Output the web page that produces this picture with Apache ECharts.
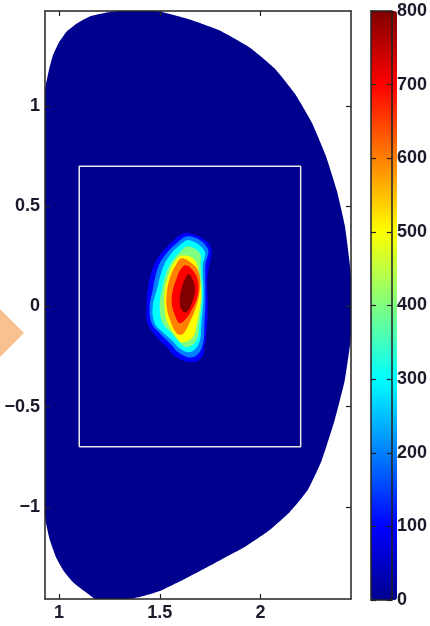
<!DOCTYPE html>
<html>
<head>
<meta charset="utf-8">
<script src="https://cdn.jsdelivr.net/npm/echarts@6/dist/echarts.min.js"></script>
<style>
  html, body { margin: 0; padding: 0; background: #fff; }
  #chart { width: 430px; height: 626px; }
</style>
</head>
<body>
<div id="chart"></div>
<script>
// tick labels
const xTicks = [1, 1.5, 2]
const yTicks = [-1, -0.5, 0, 0.5, 1]
const cbTicks = [0, 100, 200, 300, 400, 500, 600, 700, 800]

// white rectangle (R, Z)
const boxR = [1.1, 2.2, 2.2, 1.1, 1.1]
const boxZ = [-0.7, -0.7, 0.7, 0.7, -0.7]

// plasma boundary, level 0
const boundary = [
  [0.924, 1.029], [0.934, 1.104], [0.949, 1.178], [0.969, 1.253], [0.999, 1.318],
  [1.038, 1.373], [1.088, 1.413], [1.152, 1.448], [1.237, 1.468], [1.326, 1.478],
  [1.426, 1.478], [1.500, 1.473], [1.649, 1.433], [1.798, 1.378], [1.947, 1.293],
  [2.071, 1.188], [2.170, 1.064], [2.255, 0.919], [2.324, 0.755], [2.379, 0.580],
  [2.419, 0.405], [2.443, 0.221], [2.458, 0.031], [2.448, -0.168], [2.419, -0.368],
  [2.369, -0.567], [2.305, -0.767], [2.235, -0.916], [2.146, -1.026], [2.046, -1.116],
  [1.922, -1.201], [1.773, -1.281], [1.614, -1.365], [1.500, -1.420], [1.401, -1.450],
  [1.302, -1.467], [1.188, -1.465], [1.138, -1.430], [1.073, -1.380], [1.023, -1.320],
  [0.984, -1.250], [0.954, -1.166], [0.934, -1.076], [0.924, -0.991], [0.915, -0.5],
  [0.912, 0], [0.915, 0.5]
]

// contour levels and their outlines
const levels = [0, 100, 200, 300, 400, 500, 600, 700, 800]
const c100 = [
  [1.649, 0.366], [1.732, 0.326], [1.757, 0.276], [1.740, 0.176], [1.735, 0.096],
  [1.738, 0.031], [1.735, -0.083], [1.722, -0.203], [1.709, -0.253], [1.664, -0.278],
  [1.584, -0.253], [1.535, -0.203], [1.485, -0.153], [1.440, -0.083], [1.435, -0.003],
  [1.440, 0.081], [1.465, 0.191], [1.500, 0.256], [1.565, 0.326], [1.609, 0.361]
]
const c200 = [
  [1.649, 0.351], [1.738, 0.291], [1.727, 0.206], [1.727, 0.046], [1.722, -0.083],
  [1.710, -0.203], [1.664, -0.253], [1.599, -0.233], [1.550, -0.183], [1.500, -0.133],
  [1.460, -0.083], [1.450, -0.003], [1.465, 0.081], [1.485, 0.176], [1.515, 0.241],
  [1.584, 0.316]
]
const c300 = [
  [1.649, 0.331], [1.723, 0.276], [1.714, 0.206], [1.717, 0.046], [1.707, -0.083],
  [1.695, -0.183], [1.649, -0.228], [1.599, -0.208], [1.560, -0.168], [1.515, -0.128],
  [1.475, -0.083], [1.465, -0.003], [1.485, 0.081], [1.510, 0.176], [1.540, 0.241],
  [1.599, 0.306]
]
const c400 = [
  [1.639, 0.301], [1.699, 0.266], [1.703, 0.206], [1.710, 0.046], [1.697, -0.083],
  [1.682, -0.168], [1.634, -0.203], [1.589, -0.168], [1.560, -0.133], [1.515, -0.083],
  [1.500, -0.003], [1.510, 0.081], [1.535, 0.176], [1.565, 0.231], [1.609, 0.281]
]
const c500 = [
  [1.614, 0.256], [1.674, 0.231], [1.695, 0.156], [1.706, 0.070], [1.700, 0.000],
  [1.684, -0.083], [1.664, -0.153], [1.609, -0.178], [1.584, -0.153], [1.540, -0.083],
  [1.525, -0.018], [1.525, 0.081], [1.550, 0.176], [1.575, 0.226]
]
const c600 = [
  [1.609, 0.241], [1.659, 0.216], [1.694, 0.171], [1.699, 0.081], [1.679, -0.008],
  [1.649, -0.078], [1.614, -0.138], [1.584, -0.133], [1.555, -0.078], [1.535, -0.008],
  [1.535, 0.066], [1.550, 0.141], [1.579, 0.206]
]
const c700 = [
  [1.629, 0.206], [1.664, 0.181], [1.689, 0.131], [1.689, 0.056], [1.664, -0.008],
  [1.634, -0.058], [1.599, -0.083], [1.575, -0.043], [1.560, 0.016], [1.565, 0.081],
  [1.584, 0.141], [1.604, 0.186]
]
const c800 = [
  [1.644, 0.161], [1.669, 0.121], [1.674, 0.071], [1.659, 0.016], [1.634, -0.028],
  [1.609, -0.018], [1.599, 0.031], [1.609, 0.091], [1.624, 0.136]
]
const outlines = [boundary, c100, c200, c300, c400, c500, c600, c700, c800]

const jet = ['#00008f', '#0000ff', '#0080ff', '#00ffff', '#80ff80', '#ffff00', '#ff8000', '#ff0000', '#800000']

const chart = echarts.init(document.getElementById('chart'))

const lineCol = '#222'
const labelStyle = {
  fontFamily: 'Liberation Sans',
  fontSize: 18,
  fontWeight: 'bold',
  color: '#1a1a2a'
}
const fmt = v => (v < 0 ? '\u2212' + Math.abs(v) : String(v))

const frameAxis = (extra) => Object.assign({
  type: 'value',
  axisLine: { show: true, onZero: false, lineStyle: { color: lineCol, width: 1.5 } },
  axisTick: { show: true, inside: true, length: 5, lineStyle: { color: lineCol, width: 1.2 } },
  axisLabel: { show: false },
  splitLine: { show: false },
  z: 10
}, extra)

const ticks = vals => ({ show: true, inside: true, length: 5, customValues: vals, lineStyle: { color: lineCol, width: 1.2 } })

const option = {
  animation: false,
  backgroundColor: '#fff',
  grid: [
    { left: 45, top: 11, width: 306, height: 588 },
    { left: 371, top: 11, width: 26, height: 589 }
  ],
  xAxis: [
    frameAxis({
      gridIndex: 0, position: 'bottom', min: 0.93, max: 2.45,
      axisTick: ticks(xTicks),
      axisLabel: Object.assign({ show: true, margin: 5, customValues: xTicks, formatter: fmt }, labelStyle)
    }),
    frameAxis({ gridIndex: 0, position: 'top', min: 0.93, max: 2.45, axisTick: ticks(xTicks) }),
    frameAxis({ gridIndex: 1, position: 'bottom', min: 0, max: 1, axisTick: { show: false } }),
    frameAxis({ gridIndex: 1, position: 'top', min: 0, max: 1, axisTick: { show: false } })
  ],
  yAxis: [
    frameAxis({
      gridIndex: 0, position: 'left', min: -1.46, max: 1.475,
      axisTick: ticks(yTicks),
      axisLabel: Object.assign({ show: true, margin: 5, customValues: yTicks, formatter: fmt }, labelStyle)
    }),
    frameAxis({ gridIndex: 0, position: 'right', min: -1.46, max: 1.475, axisTick: ticks(yTicks) }),
    frameAxis({ gridIndex: 1, position: 'left', min: 0, max: 800, axisTick: ticks(cbTicks) }),
    frameAxis({
      gridIndex: 1, position: 'right', min: 0, max: 800,
      axisTick: ticks(cbTicks),
      axisLabel: Object.assign({ show: true, margin: 5, customValues: cbTicks }, labelStyle)
    })
  ],
  visualMap: {
    type: 'continuous',
    min: 0,
    max: 800,
    dimension: 1,
    seriesIndex: 0,
    calculable: false,
    orient: 'vertical',
    left: 371,
    top: 11,
    padding: 0,
    itemWidth: 26,
    itemHeight: 589,
    inRange: { color: jet }
  },
  graphic: [{
    type: 'polygon',
    shape: { points: [[24, 333], [-1, 308], [-26, 333], [-1, 358]] },
    style: { fill: '#f9c190' },
    z: 1
  }],
  series: [
    {
      type: 'custom',
      xAxisIndex: 0,
      yAxisIndex: 0,
      data: levels.map((lv, i) => [i, lv]),
      renderItem: (params, api) => {
        const idx = api.value(0)
        const cs = params.coordSys
        return {
          type: 'polygon',
          shape: {
            points: outlines[idx].map(p => api.coord(p)),
            smooth: idx === 0 ? 0.15 : 0.4
          },
          style: { fill: api.visual('color') },
          clipPath: { type: 'rect', shape: { x: cs.x, y: cs.y, width: cs.width, height: cs.height } }
        }
      }
    },
    {
      type: 'line',
      xAxisIndex: 0,
      yAxisIndex: 0,
      data: boxR.map((r, i) => [r, boxZ[i]]),
      symbol: 'none',
      lineStyle: { color: '#e8e8e8', width: 1.5 },
      z: 5
    }
  ]
}

chart.setOption(option)
</script>
</body>
</html>
